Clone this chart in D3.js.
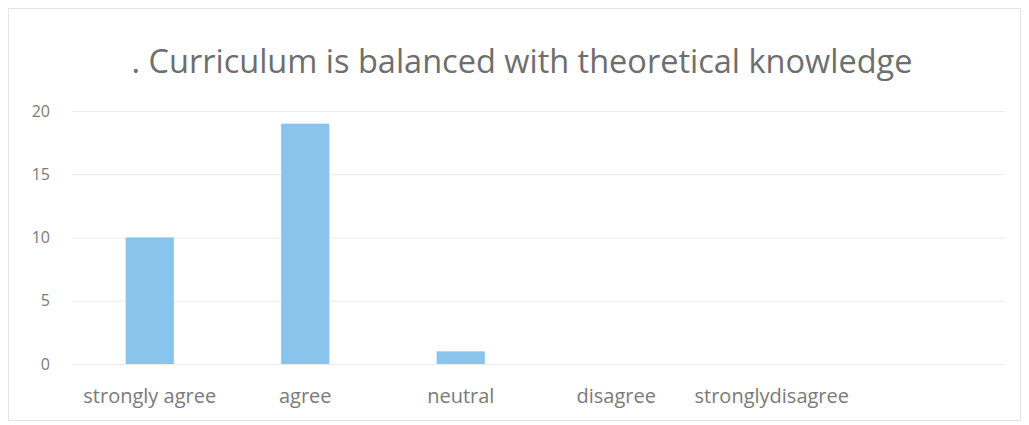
<!DOCTYPE html>
<html>
  <head>
    <title>Curriculum is balanced with theoretical knowledge</title>
    <script src="https://d3js.org/d3.v7.min.js"></script>
    <style>
      body { margin: 0; background: #fff; }
      text { font-family: "Open Sans", sans-serif; }
    </style>
  </head>
  <body>
    <script type="text/javascript">

    var title = ". Curriculum is balanced with theoretical knowledge";

    // categories (the last slot is left empty in the original chart)
    var categories = ["strongly agree", "agree", "neutral", "disagree", "stronglydisagree", ""];
    var counts = [10, 19, 1, 0, 0, 0];
    var yTicks = [0, 5, 10, 15, 20];

    var width = 1029,
        height = 425;

    var margin = {top: 111, right: 24, bottom: 61, left: 72};

    var svg = d3.select("body").append("svg")
        .attr("width", width)
        .attr("height", height);

    // faint chart border
    svg.append("rect")
        .attr("x", 8.5)
        .attr("y", 8.5)
        .attr("width", width - 17)
        .attr("height", height - 13)
        .attr("fill", "none")
        .attr("stroke", "#e4e4e4");

    svg.append("text")
        .attr("x", 522)
        .attr("y", 73)
        .attr("text-anchor", "middle")
        .attr("fill", "#6e6e6e")
        .style("font-size", "32.5px")
        .text(title);

    var x = d3.scaleBand()
        .domain(d3.range(categories.length))
        .range([margin.left, width - margin.right]);

    var y = d3.scaleLinear()
        .domain([0, 20])
        .range([height - margin.bottom, margin.top]);

    // gridlines
    svg.append("g")
        .attr("class", "grid")
        .attr("transform", "translate(" + margin.left + ",0)")
        .call(d3.axisLeft(y)
            .tickValues(yTicks)
            .tickSize(-(width - margin.left - margin.right))
            .tickFormat(""))
        .call(function(g) {
          g.select(".domain").remove();
          g.selectAll("line").attr("stroke", "#ebebeb");
        });

    // y tick labels
    svg.append("g")
        .attr("transform", "translate(" + 50 + ",0)")
        .call(d3.axisLeft(y)
            .tickValues(yTicks)
            .tickSize(0)
            .tickPadding(0))
        .call(function(g) {
          g.select(".domain").remove();
          g.selectAll("text")
              .attr("fill", "#7a7a7a")
              .style("font-family", "'Open Sans', sans-serif")
              .style("font-size", "16px");
        });

    var barWidth = x.bandwidth() * 0.31;

    svg.selectAll("rect.bar")
        .data(counts)
      .enter().append("rect")
        .attr("class", "bar")
        .attr("x", function(d, i) { return x(i) + (x.bandwidth() - barWidth) / 2; })
        .attr("y", function(d) { return y(d); })
        .attr("width", barWidth)
        .attr("height", function(d) { return y(0) - y(d); })
        .attr("fill", "#88c4ec");

    // category labels
    svg.append("g")
        .attr("transform", "translate(0," + (height - margin.bottom) + ")")
        .call(d3.axisBottom(x)
            .tickSize(0)
            .tickPadding(25)
            .tickFormat(function(i) { return categories[i]; }))
        .call(function(g) {
          g.select(".domain").remove();
          g.selectAll("text")
              .attr("fill", "#7a7a7a")
              .style("font-family", "'Open Sans', sans-serif")
              .style("font-size", "20px");
        });

    </script>
  </body>
</html>
